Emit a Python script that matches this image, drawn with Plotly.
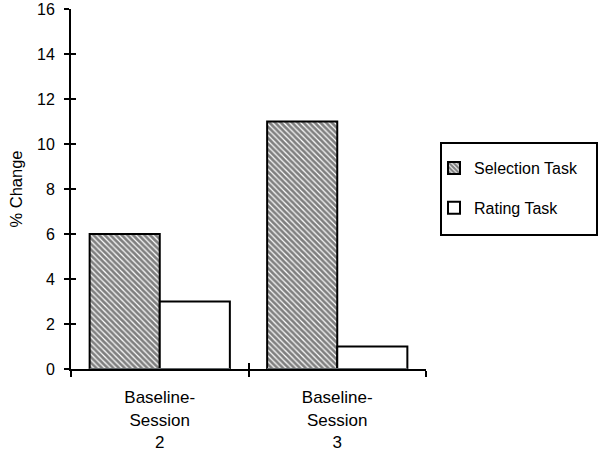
import plotly.graph_objects as go

categories = ["Baseline-<br>Session<br>2", "Baseline-<br>Session<br>3"]
selection = [6, 11]
rating = [3, 1]
y_ticks = [0, 2, 4, 6, 8, 10, 12, 14, 16]

FAM = "Liberation Sans, Arial, sans-serif"
font = dict(family=FAM, size=16, color="black")

L, R, T, B = 71, 174, 9, 82
PW, PH = 600 - L - R, 451 - T - B

fig = go.Figure()
fig.add_trace(go.Bar(
    x=categories, y=selection, name="Selection Task", legendgroup="a",
    marker=dict(color="white", line=dict(color="black", width=2),
                pattern=dict(shape="\\", fgcolor="black", bgcolor="white", size=4, solidity=0.7)),
))
fig.add_trace(go.Bar(
    x=categories, y=rating, name="Rating Task", legendgroup="b",
    marker=dict(color="white", line=dict(color="black", width=2)),
))

fig.update_layout(
    width=600, height=451,
    margin=dict(l=L, r=R, t=T, b=B),
    plot_bgcolor="white", paper_bgcolor="white",
    font=font,
    barmode="group", bargap=0.21, bargroupgap=0.0,
    showlegend=True,
    legend=dict(x=(434 - L) / PW, y=(369 - 151) / PH, xanchor="left", yanchor="top",
                borderwidth=0, bgcolor="rgba(0,0,0,0)",
                font=dict(family=FAM, size=16),
                traceorder="grouped", tracegroupgap=16),
    xaxis=dict(type="category", tickson="boundaries", ticks="outside", ticklen=6,
               tickwidth=2, tickcolor="black", showline=True, linecolor="black", linewidth=2,
               showgrid=False, zeroline=False, automargin=False,
               ticklabelstandoff=12,
               tickfont=dict(family=FAM, size=17)),
    xaxis2=dict(type="category", overlaying="x", anchor="y", side="bottom",
                matches="x", tickson="boundaries", ticks="inside", ticklen=6,
                tickwidth=2, tickcolor="black", showticklabels=False, showgrid=False,
                showline=False, automargin=False),
    yaxis=dict(range=[0, 16], tickvals=y_ticks, ticks="outside", ticklen=5, tickwidth=2,
               tickcolor="black", showline=True, linecolor="black", linewidth=2,
               showgrid=False, zeroline=False, automargin=False,
               ticklabelstandoff=6,
               tickfont=dict(family=FAM, size=16),
               title=dict(text="% Change", standoff=10, font=dict(family=FAM, size=16.5))),
    yaxis2=dict(range=[0, 16], tickvals=y_ticks, overlaying="y", anchor="x", side="left",
                ticks="inside", ticklen=5, tickwidth=2, tickcolor="black",
                showticklabels=False, showgrid=False, showline=False, zeroline=False,
                automargin=False),
    shapes=[dict(type="rect", xref="paper", yref="paper",
                 x0=(441 - L) / PW, x1=(597 - L) / PW,
                 y0=(369 - 235) / PH, y1=(369 - 143) / PH,
                 line=dict(color="black", width=2), fillcolor="rgba(0,0,0,0)")],
)
# invisible trace to activate the inside-tick overlay axes
fig.add_trace(go.Bar(x=categories, y=[0, 0], xaxis="x2", yaxis="y2", showlegend=False,
                     marker=dict(color="rgba(0,0,0,0)"), hoverinfo="skip"))
fig.write_html("out.html", post_script="document.body.style.margin='0';",
               config={"displayModeBar": False})
